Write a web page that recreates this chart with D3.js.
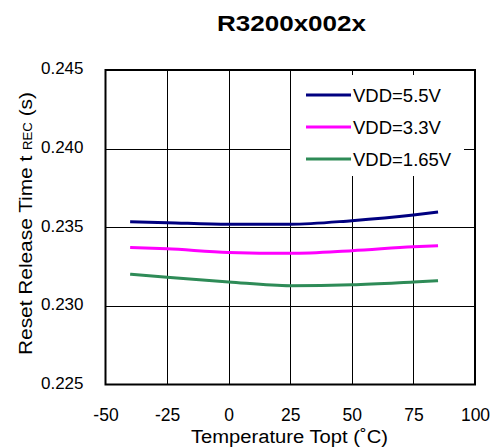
<!DOCTYPE html>
<html>
<head>
<meta charset="utf-8">
<script src="https://cdn.jsdelivr.net/npm/d3@7"></script>
<style>
  html, body { margin: 0; padding: 0; background: #fff; }
  svg { display: block; font-family: "Liberation Sans", Arial, sans-serif; }
</style>
</head>
<body>
<svg id="chart" width="494" height="448"></svg>
<script>
const temps = [-40, -25, 0, 25, 50, 75, 85];
const vdd55 = [0.23535, 0.23529, 0.23519, 0.23519, 0.23542, 0.23578, 0.23597];
const vdd33 = [0.23372, 0.23363, 0.23340, 0.23334, 0.23351, 0.23376, 0.23383];
const vdd165 = [0.23201, 0.23182, 0.23152, 0.23128, 0.23134, 0.23152, 0.23160];
const seriesNames = ["VDD=5.5V", "VDD=3.3V", "VDD=1.65V"];
const seriesColors = ["#000080", "#ff00ff", "#2e8b57"];
const xTicks = [-50, -25, 0, 25, 50, 75, 100];
const yTicks = [0.225, 0.230, 0.235, 0.240, 0.245];
const title = "R3200x002x";

const svg = d3.select("#chart");
const L = 105.5, R = 475, T = 70, B = 384.5;
const x = d3.scaleLinear().domain([-50, 100]).range([L, R]);
const y = d3.scaleLinear().domain([0.225, 0.245]).range([B, T]);

// grid
const g = svg.append("g");
g.selectAll(".vg").data(xTicks.slice(1, -1)).join("line")
  .attr("x1", d => Math.round(x(d)) + 0.5).attr("x2", d => Math.round(x(d)) + 0.5)
  .attr("y1", T).attr("y2", B).attr("stroke", "#000").attr("stroke-width", 1);
g.selectAll(".hg").data(yTicks.slice(1, -1)).join("line")
  .attr("y1", d => Math.round(y(d)) + 0.5).attr("y2", d => Math.round(y(d)) + 0.5)
  .attr("x1", L).attr("x2", R).attr("stroke", "#000").attr("stroke-width", 1);

// legend background covering grid
svg.append("rect").attr("x", 291).attr("y", 75).attr("width", 173).attr("height", 101).attr("fill", "#fff");

// frame
svg.append("rect").attr("x", L).attr("y", T).attr("width", R - L).attr("height", B - T)
  .attr("fill", "none").attr("stroke", "#000").attr("stroke-width", 2);

// axes labels via d3 axes
const xAxis = d3.axisBottom(x).tickValues(xTicks).tickSize(0).tickPadding(0).tickFormat(d => String(d));
const xa = svg.append("g").attr("transform", `translate(0,${B})`).call(xAxis);
xa.select(".domain").remove();
xa.selectAll("text").attr("font-size", 17.5).attr("fill", "#000").attr("dy", null).attr("y", 36)
  .attr("font-family", "Liberation Sans, Arial, sans-serif");

const yAxis = d3.axisLeft(y).tickValues(yTicks).tickSize(0).tickPadding(0).tickFormat(d3.format(".3f"));
const ya = svg.append("g").attr("transform", `translate(${L},0)`).call(yAxis);
ya.select(".domain").remove();
ya.selectAll("text").attr("font-size", 17).attr("fill", "#000").attr("x", -22).attr("dy", "0.22em")
  .attr("font-family", "Liberation Sans, Arial, sans-serif");

// lines
const allSeries = [vdd55, vdd33, vdd165];
const line = d3.line().x((d, i) => x(temps[i])).y(d => y(d)).curve(d3.curveMonotoneX);
svg.selectAll(".series").data(allSeries).join("path")
  .attr("d", d => line(d)).attr("fill", "none")
  .attr("stroke", (d, i) => seriesColors[i]).attr("stroke-width", 3);

// legend
const lg = svg.append("g");
const rowsY = [95, 127, 159];
seriesNames.forEach((n, i) => {
  lg.append("line").attr("x1", 306).attr("x2", 351).attr("y1", rowsY[i]).attr("y2", rowsY[i])
    .attr("stroke", seriesColors[i]).attr("stroke-width", 3);
  lg.append("text").attr("x", 353).attr("y", rowsY[i] + 6.5).attr("font-size", 18.5).text(n);
});

// title
svg.append("text").attr("x", 291.5).attr("y", 30.5).attr("text-anchor", "middle")
  .attr("font-size", 22).attr("font-weight", "bold")
  .attr("textLength", 149).attr("lengthAdjust", "spacingAndGlyphs").text(title);

// x title
svg.append("text").attr("x", 289.5).attr("y", 443).attr("text-anchor", "middle")
  .attr("font-size", 18).attr("textLength", 197).attr("lengthAdjust", "spacingAndGlyphs")
  .text("Temperature Topt (\u02DAC)");

// y title
const yt = svg.append("text").attr("transform", "translate(31.5,223.5) rotate(-90)")
  .attr("text-anchor", "middle").attr("font-size", 19)
  .attr("textLength", 263).attr("lengthAdjust", "spacingAndGlyphs");
yt.append("tspan").text("Reset Release Time  t ");
yt.append("tspan").attr("font-size", 12).text("REC");
yt.append("tspan").text(" (s)");
</script>
</body>
</html>
